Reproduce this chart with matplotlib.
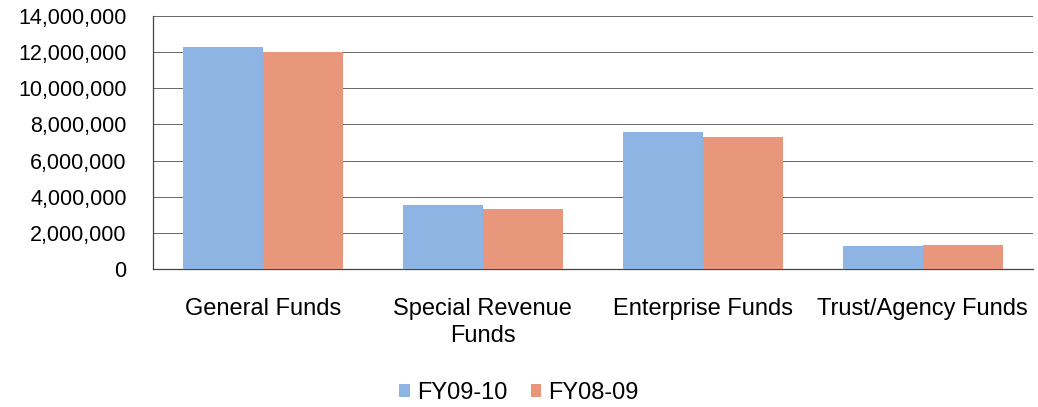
import matplotlib.pyplot as plt
import numpy as np
from matplotlib.ticker import FuncFormatter

categories = ["General Funds", "Special Revenue\nFunds", "Enterprise Funds", "Trust/Agency Funds"]
fy0910 = [12300000, 3540000, 7560000, 1270000]
fy0809 = [12030000, 3320000, 7320000, 1310000]
series_names = ["FY09-10", "FY08-09"]

plt.rcParams["font.family"] = ["Liberation Sans", "DejaVu Sans"]

fig = plt.figure(figsize=(10.38, 4.07), dpi=100)
ax = fig.add_axes([0.1474, 0.339, 0.8476, 0.6217])

x = np.arange(len(categories))
w = 0.364
ax.bar(x - w / 2, fy0910, w, color="#8EB4E3", label=series_names[0], zorder=3)
ax.bar(x + w / 2, fy0809, w, color="#E8967C", label=series_names[1], zorder=3)

ax.set_xlim(-0.5, len(categories) - 0.5)
ax.set_ylim(0, 14000000)
ax.set_yticks(np.arange(0, 14000001, 2000000))
ax.yaxis.set_major_formatter(FuncFormatter(lambda v, p: f"{int(v):,}"))
ax.grid(axis="y", color="#666666", linewidth=0.7, zorder=0)
ax.tick_params(axis="y", length=0, labelsize=15.5, pad=19)
ax.tick_params(axis="x", length=0, labelsize=17, pad=21)
ax.set_xticks(x)
ax.set_xticklabels(categories, linespacing=1.3)

for s in ["top", "right"]:
    ax.spines[s].set_visible(False)
for s in ["left", "bottom"]:
    ax.spines[s].set_color("#444444")
    ax.spines[s].set_linewidth(0.9)

fig.legend(loc="lower center", bbox_to_anchor=(0.5, -0.045), ncol=2, frameon=False,
           fontsize=17, handlelength=0.45, handleheight=0.45, handletextpad=0.3,
           columnspacing=1.0)

fig.savefig("out.png", dpi=100)
